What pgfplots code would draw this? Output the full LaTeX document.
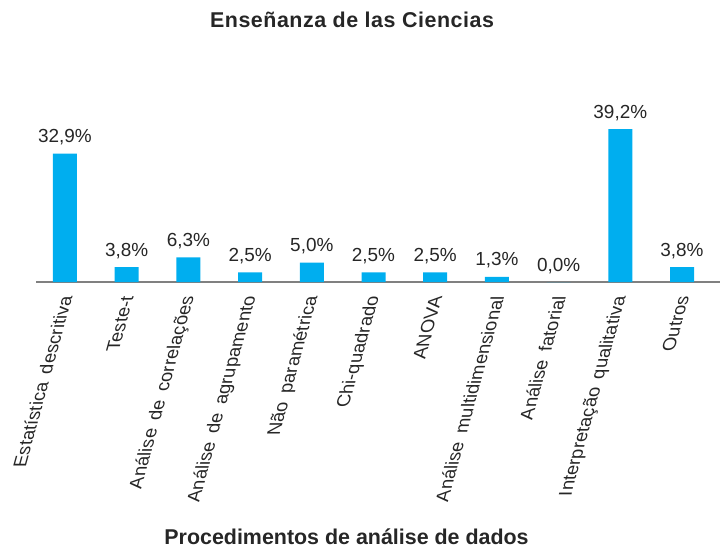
\documentclass[border=0pt]{standalone}
\usepackage{fontspec}
\setmainfont{Liberation Sans}
\usepackage{pgfplots}
\pgfplotsset{compat=1.18}
\definecolor{barblue}{RGB}{0,174,239}
\definecolor{txt}{RGB}{38,38,38}
\definecolor{axgray}{RGB}{128,128,128}
\newcommand{\wsp}{\hspace{0.45em}}
\begin{document}
\begin{tikzpicture}
\path[use as bounding box] (0,0) rectangle (720bp,548bp);
\begin{axis}[
  at={(36bp,266bp)}, anchor=south west,
  scale only axis, width=684bp, height=156bp,
  xmin=-0.47, xmax=10.616, ymin=0, ymax=40,
  axis y line=none, axis x line*=bottom,
  x axis line style={draw=axgray, line width=1.3bp, -},
  xtick={0,...,10}, major tick length=0pt,
  xticklabels={Estatística\wsp descritiva, Teste-t, Análise\wsp de\wsp correlações, Análise\wsp de\wsp agrupamento, Não\wsp paramétrica, Chi-quadrado, ANOVA, Análise\wsp multidimensional, Análise\wsp fatorial, Interpretação\wsp qualitativa, Outros},
  xticklabel style={font=\fontsize{18.5}{20}\selectfont, text=txt, inner sep=0pt, anchor=east, xshift=1bp, yshift=-14bp, xslant=0.275, rotate=90},
  ybar, bar width=24bp, bar shift=0pt,
  /pgf/number format/assume math mode=true,
  nodes near coords={\pgfmathprintnumber[use comma,fixed,fixed zerofill,precision=1]{\pgfplotspointmeta}\%},
  point meta=y,
  every node near coord/.append style={font=\fontsize{19}{21}\selectfont, text=txt, anchor=base, inner sep=0pt, yshift=11bp},
  title={Enseñanza de las Ciencias},
  title style={at={(axis description cs:0.462,1.596)}, anchor=base, font=\bfseries\fontsize{21.5}{23}\selectfont\addfontfeature{LetterSpace=2.5}, text=txt, inner sep=0pt},
  xlabel={Procedimentos de análise de dados},
  xlabel style={at={(axis description cs:0.454,-1.68)}, anchor=base, font=\bfseries\fontsize{21.5}{23}\selectfont, text=txt, inner sep=0pt},
  clip=false,
]
\addplot[fill=barblue, draw=none] coordinates {
(0,32.9) (1,3.8) (2,6.3) (3,2.5) (4,5.0) (5,2.5) (6,2.5) (7,1.3) (8,0.0) (9,39.2) (10,3.8)
};
\end{axis}
\end{tikzpicture}
\end{document}
